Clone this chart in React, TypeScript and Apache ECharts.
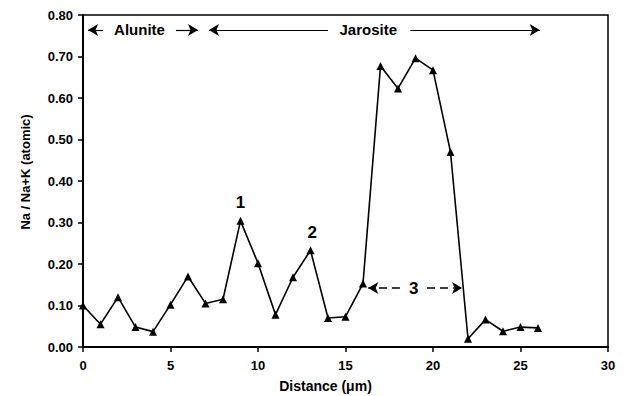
import React, { useEffect, useRef } from "react";
import * as echarts from "echarts";

const distance = [0, 1, 2, 3, 4, 5, 6, 7, 8, 9, 10, 11, 12, 13, 14, 15, 16, 17, 18, 19, 20, 21, 22, 23, 24, 25, 26];
const ratio = [0.1, 0.055, 0.12, 0.048, 0.037, 0.102, 0.17, 0.105, 0.115, 0.304, 0.202, 0.078, 0.168, 0.233, 0.07, 0.073, 0.153, 0.677, 0.623, 0.696, 0.667, 0.47, 0.02, 0.066, 0.038, 0.048, 0.046];

// region names: [x, y, text]
const regionLabels: [number, number, string][] = [
  [3.23, 0.764, "Alunite"],
  [16.3, 0.764, "Jarosite"],
];
// numbered features: [x, y, text]
const featureLabels: [number, number, string][] = [
  [9, 0.347, "1"],
  [13.1, 0.275, "2"],
  [18.9, 0.142, "3"],
];

// arrows: [x1, x2, y] (arrow head at x2)
const solidArrows: [number, number, number][] = [
  [1.14, 0.29, 0.764],
  [5.31, 6.57, 0.764],
  [14.0, 7.2, 0.764],
  [18.7, 26.1, 0.764],
];
const dashedArrows: [number, number, number][] = [
  [18.11, 16.3, 0.142],
  [19.66, 21.66, 0.142],
];

const FONT = "Liberation Sans, Arial, sans-serif";

export default function App() {
  const ref = useRef<HTMLDivElement>(null);
  useEffect(() => {
    document.body.style.margin = "0";
    const chart = echarts.init(ref.current!, null, { renderer: "svg" });
    const arrowData = (arr: [number, number, number][]) =>
      arr.map(([x1, x2, y]) => [
        { coord: [x1, y], symbol: "none" },
        { coord: [x2, y], symbol: "arrow" },
      ]);
    const textSeries = (arr: [number, number, string][], size: number) => ({
      type: "scatter",
      data: arr.map(([x, y, t]) => ({ value: [x, y], name: t })),
      symbolSize: 0,
      itemStyle: { opacity: 1, color: "#000" },
      label: {
        show: true,
        position: "inside",
        formatter: (p: any) => p.name,
        fontFamily: FONT,
        fontWeight: "bold",
        fontSize: size,
        color: "#000",
        textBorderWidth: 0,
      },
      z: 5,
    });
    chart.setOption({
      animation: false,
      backgroundColor: "#fff",
      grid: {
        left: 83,
        right: 18,
        top: 15,
        bottom: 49,
        show: true,
        borderColor: "#000",
        borderWidth: 1.5,
        containLabel: false,
        outerBoundsMode: "none",
      },
      xAxis: {
        type: "value",
        min: 0,
        max: 30,
        interval: 5,
        name: "Distance (μm)",
        nameLocation: "middle",
        nameGap: 32,
        nameTextStyle: { fontFamily: FONT, fontWeight: "bold", fontSize: 14, color: "#000", padding: [0, 40, 0, 0] },
        axisLine: { show: true, lineStyle: { color: "#000", width: 2 } },
        axisTick: { show: true, inside: false, length: 5, lineStyle: { color: "#000", width: 1.5 } },
        axisLabel: { fontFamily: FONT, fontWeight: "bold", fontSize: 13, color: "#000", margin: 12 },
        splitLine: { show: false },
      },
      yAxis: {
        type: "value",
        min: 0,
        max: 0.8,
        interval: 0.1,
        name: "Na / Na+K (atomic)",
        nameLocation: "middle",
        nameGap: 51,
        nameTextStyle: { fontFamily: FONT, fontWeight: "bold", fontSize: 13, color: "#000", padding: [0, 0, 0, 18] },
        axisLine: { show: true, lineStyle: { color: "#000", width: 2 } },
        axisTick: { show: true, inside: false, length: 5, lineStyle: { color: "#000", width: 1.5 } },
        axisLabel: {
          fontFamily: FONT,
          fontWeight: "bold",
          fontSize: 13,
          color: "#000",
          margin: 10,
          formatter: (v: number) => v.toFixed(2),
        },
        splitLine: { show: false },
      },
      series: [
        {
          type: "line",
          data: distance.map((d, i) => [d, ratio[i]]),
          symbol: "triangle",
          symbolSize: 8,
          itemStyle: { color: "#000" },
          lineStyle: { color: "#000", width: 1.6 },
          z: 3,
        },
        {
          type: "line",
          data: [],
          markLine: {
            silent: true,
            symbolSize: [9, 10],
            label: { show: false },
            lineStyle: { color: "#000", width: 1.2, type: "solid" },
            data: arrowData(solidArrows),
          },
        },
        {
          type: "line",
          data: [],
          markLine: {
            silent: true,
            symbolSize: [9, 10],
            label: { show: false },
            lineStyle: { color: "#000", width: 1.6, type: [8, 5] },
            data: arrowData(dashedArrows),
          },
        },
        textSeries(regionLabels, 15),
        textSeries(featureLabels, 17),
      ],
    });
    return () => chart.dispose();
  }, []);
  return <div ref={ref} style={{ width: 626, height: 396 }} />;
}
